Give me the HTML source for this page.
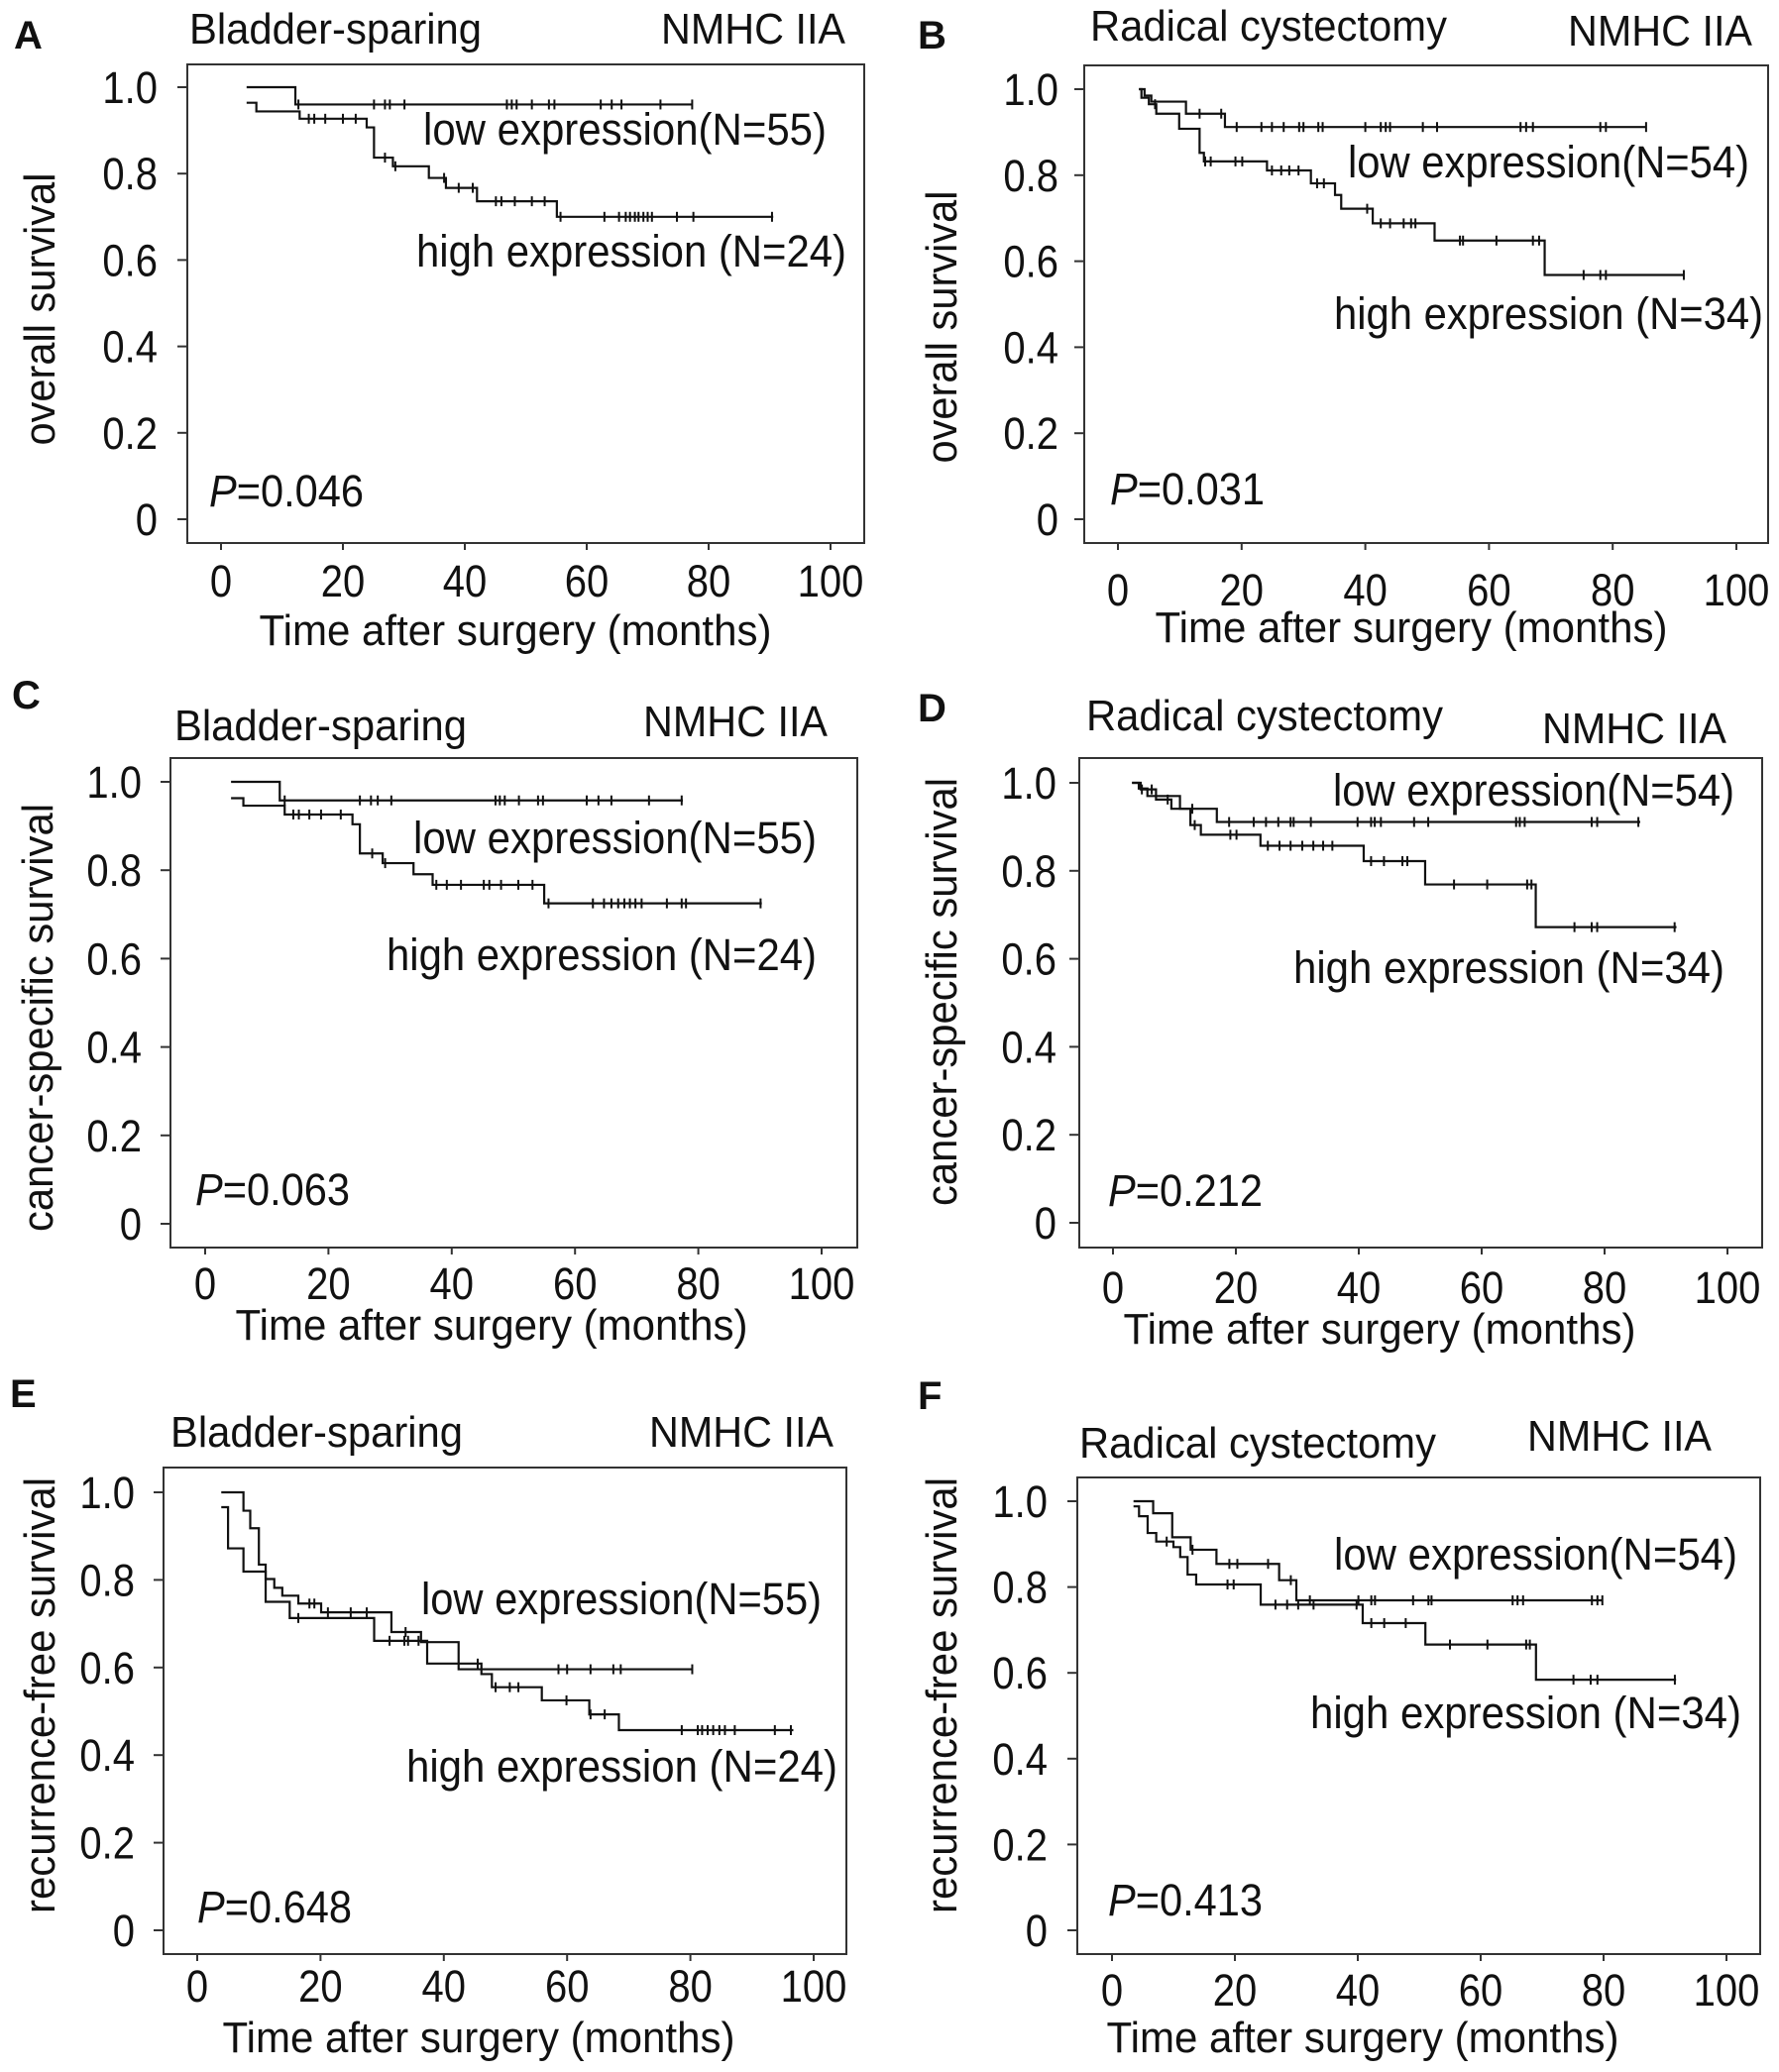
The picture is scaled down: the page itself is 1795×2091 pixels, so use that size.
<!DOCTYPE html>
<html><head><meta charset="utf-8"><style>
html,body{margin:0;padding:0;background:#fff}
svg{display:block}
text{font-family:"Liberation Sans",Arial,sans-serif;fill:#111}
</style></head>
<body>
<svg id="fig" width="1795" height="2091" viewBox="0 0 1795 2091" xmlns="http://www.w3.org/2000/svg"></svg>
<script>
// ---- shared axis data ----
const xTicks = [0, 20, 40, 60, 80, 100];
const xTickLabels = ['0', '20', '40', '60', '80', '100'];
const yTicks = [0, 0.2, 0.4, 0.6, 0.8, 1.0];
const yTickLabels = ['0', '0.2', '0.4', '0.6', '0.8', '1.0'];

// ---- Panel A: overall survival, bladder-sparing ----
const aLowT = [4.2, 12.2];
const aLowS = [1.0, 0.96];
const aLowEnd = 77.3;
const aLowCens = [12.7, 25.1, 26.9, 27.7, 30.1, 46.9, 47.7, 48.5, 51.0, 53.8, 54.7, 62.3, 64.1, 65.7, 72.1, 77.3];
const aHighT = [4.2, 5.8, 12.9, 23.9, 25.1, 28.2, 34.1, 36.9, 42.0, 55.1];
const aHighS = [0.964, 0.944, 0.927, 0.907, 0.837, 0.817, 0.79, 0.767, 0.736, 0.70];
const aHighEnd = 90.6;
const aHighCens = [14.4, 15.3, 17.1, 20.0, 22.1, 26.9, 28.6, 36.6, 39.0, 41.3, 45.1, 46.0, 48.2, 51.0, 53.1, 55.7, 62.9, 65.3, 66.4, 67.1, 67.9, 68.5, 69.3, 70.0, 70.7, 74.8, 77.5, 90.4];

// ---- Panel B: overall survival, radical cystectomy ----
const bLowT = [3.4, 4.3, 5.4, 11.0, 17.3];
const bLowS = [1.0, 0.985, 0.971, 0.943, 0.912];
const bLowEnd = 85.4;
const bLowCens = [13.2, 16.7, 19.2, 23.2, 24.9, 26.8, 29.3, 30.0, 32.4, 33.1, 40.0, 42.5, 43.3, 44.0, 49.3, 51.6, 65.1, 66.0, 67.1, 78.0, 78.9, 85.4];
const bHighT = [3.4, 3.8, 5.0, 6.2, 9.9, 13.2, 13.9, 24.1, 31.2, 35.1, 36.1, 41.2, 51.2, 69.0];
const bHighS = [1.0, 0.98, 0.965, 0.943, 0.908, 0.852, 0.832, 0.811, 0.781, 0.754, 0.722, 0.688, 0.648, 0.568];
const bHighEnd = 91.5;
const bHighCens = [6.0, 14.1, 15.0, 19.0, 20.1, 24.9, 26.4, 27.7, 29.2, 32.2, 33.3, 40.3, 42.5, 44.0, 46.2, 47.4, 48.1, 55.3, 55.8, 61.2, 67.1, 68.1, 75.3, 78.0, 78.9, 91.5];

// ---- Panel C: cancer-specific survival, bladder-sparing ----
const cLowT = [4.2, 12.1];
const cLowS = [1.0, 0.958];
const cLowEnd = 77.5;
const cLowCens = [12.9, 25.1, 26.9, 28.0, 30.2, 47.1, 47.8, 48.6, 50.9, 54.0, 54.8, 61.9, 63.8, 65.9, 72.0, 77.3];
const cHighT = [4.2, 6.2, 12.9, 23.9, 25.1, 28.8, 33.8, 36.9, 55.0];
const cHighS = [0.963, 0.946, 0.926, 0.904, 0.838, 0.816, 0.791, 0.767, 0.725];
const cHighEnd = 90.3;
const cHighCens = [14.3, 15.2, 16.9, 18.8, 22.0, 27.1, 29.2, 37.5, 39.2, 41.5, 45.2, 46.1, 48.0, 50.8, 53.1, 55.7, 62.9, 64.7, 65.9, 67.0, 68.0, 68.9, 69.8, 70.8, 74.9, 77.3, 78.0, 90.1];

// ---- Panel D: cancer-specific survival, radical cystectomy ----
const dLowT = [3.1, 4.2, 5.6, 10.9, 16.9];
const dLowS = [1.0, 0.987, 0.970, 0.941, 0.911];
const dLowEnd = 85.8;
const dLowCens = [12.9, 18.9, 22.9, 24.9, 26.9, 28.9, 29.4, 32.2, 39.8, 42.0, 42.6, 43.6, 49.0, 51.3, 65.6, 66.2, 67.0, 77.9, 78.8, 85.5];
const dHighT = [3.1, 4.5, 7.0, 9.5, 12.6, 14.3, 24.0, 40.8, 50.8, 68.8];
const dHighS = [1.0, 0.985, 0.962, 0.941, 0.904, 0.882, 0.857, 0.822, 0.769, 0.672];
const dHighEnd = 91.7;
const dHighCens = [4.7, 6.3, 8.9, 13.3, 19.1, 20.1, 25.2, 27.1, 28.9, 30.8, 32.6, 34.2, 35.7, 42.0, 44.1, 47.1, 47.9, 55.5, 60.9, 67.4, 68.1, 75.1, 77.9, 78.8, 91.4];

// ---- Panel E: recurrence-free survival, bladder-sparing ----
const eLowT = [3.9, 7.5, 8.6, 10.0, 11.1, 12.5, 13.8, 16.4, 20.1, 31.5, 36.3, 42.4];
const eLowS = [1.0, 0.958, 0.918, 0.835, 0.802, 0.782, 0.764, 0.746, 0.726, 0.681, 0.658, 0.596];
const eLowEnd = 80.3;
const eLowCens = [18.2, 19.0, 21.2, 24.9, 27.5, 33.8, 58.6, 60.0, 63.8, 67.5, 68.7, 80.3];
const eHighT = [3.9, 5.0, 7.5, 11.1, 15.0, 28.7, 37.3, 46.1, 47.8, 55.9, 63.6, 68.4];
const eHighS = [0.966, 0.872, 0.819, 0.75, 0.713, 0.661, 0.609, 0.585, 0.555, 0.525, 0.493, 0.457];
const eHighEnd = 96.7;
const eHighCens = [16.4, 31.2, 33.6, 34.2, 35.9, 45.5, 48.4, 50.7, 52.1, 59.9, 63.8, 66.1, 78.6, 81.2, 81.9, 82.8, 83.7, 84.7, 85.6, 87.2, 93.7, 96.3];

// ---- Panel F: recurrence-free survival, radical cystectomy ----
const fLowT = [3.5, 6.7, 9.8, 12.8, 17.0, 27.2, 30.0];
const fLowS = [1.0, 0.972, 0.916, 0.887, 0.854, 0.816, 0.769];
const fLowEnd = 79.8;
const fLowCens = [13.1, 19.1, 20.4, 25.4, 29.1, 32.2, 40.1, 42.2, 42.8, 49.0, 51.5, 52.0, 65.2, 66.0, 66.9, 78.1, 79.0, 79.8];
const fHighT = [3.5, 4.4, 5.8, 7.2, 10.0, 11.1, 12.3, 13.7, 24.2, 40.8, 51.0, 69.0];
const fHighS = [0.988, 0.965, 0.926, 0.906, 0.893, 0.870, 0.829, 0.806, 0.759, 0.716, 0.666, 0.584];
const fHighEnd = 91.8;
const fHighCens = [8.9, 18.8, 19.8, 26.6, 28.5, 30.3, 32.8, 39.8, 42.2, 44.3, 47.8, 55.0, 61.1, 67.4, 68.0, 75.1, 77.9, 79.0, 91.6];

// ---- layout (positions only) ----
const panels = [
 {id:'a', letter:'A', lx:14, ly:49, L:189, T:65, R:872, B:548, x0:223, x100:838, y0:524, y1:88,
  title:'Bladder-sparing', tx:191, ty:44, tw:295, nx:853, ny:44,
  ylab:'overall survival', ylx:40, yly:312, yll:275, tickR:159, xtY:600,
  xtitleX:520, xtitleY:651,
  lowX:427, lowY:146, lowW:407, lowN:'55', highX:420, highY:269, highW:434, highN:'24',
  pX:211, pY:511, pv:'0.046',
  low:[aLowT,aLowS,aLowEnd,aLowCens], high:[aHighT,aHighS,aHighEnd,aHighCens]},
 {id:'b', letter:'B', lx:926, ly:49, L:1094, T:66, R:1784, B:548, x0:1128, x100:1752, y0:524, y1:90,
  title:'Radical cystectomy', tx:1100, ty:41, tw:360, nx:1768, ny:46,
  ylab:'overall survival', ylx:950, yly:330, yll:275, tickR:1068, xtY:609,
  xtitleX:1424, xtitleY:648,
  lowX:1360, lowY:179, lowW:405, lowN:'54', highX:1346, highY:332, highW:433, highN:'34',
  pX:1120, pY:509, pv:'0.031',
  low:[bLowT,bLowS,bLowEnd,bLowCens], high:[bHighT,bHighS,bHighEnd,bHighCens]},
 {id:'c', letter:'C', lx:12, ly:715, L:172, T:765, R:865, B:1259, x0:207, x100:829, y0:1235, y1:789,
  title:'Bladder-sparing', tx:176, ty:747, tw:295, nx:835, ny:743,
  ylab:'cancer-specific survival', ylx:38, yly:1027, yll:432, tickR:143, xtY:1309,
  xtitleX:496, xtitleY:1352,
  lowX:417, lowY:861, lowW:407, lowN:'55', highX:390, highY:979, highW:434, highN:'24',
  pX:197, pY:1216, pv:'0.063',
  low:[cLowT,cLowS,cLowEnd,cLowCens], high:[cHighT,cHighS,cHighEnd,cHighCens]},
 {id:'d', letter:'D', lx:926, ly:728, L:1089, T:765, R:1778, B:1259, x0:1123, x100:1743, y0:1234, y1:790,
  title:'Radical cystectomy', tx:1096, ty:737, tw:360, nx:1742, ny:750,
  ylab:'cancer-specific survival', ylx:950, yly:1001, yll:432, tickR:1066, xtY:1313,
  xtitleX:1392, xtitleY:1356,
  lowX:1345, lowY:813, lowW:405, lowN:'54', highX:1305, highY:992, highW:435, highN:'34',
  pX:1118, pY:1217, pv:'0.212',
  low:[dLowT,dLowS,dLowEnd,dLowCens], high:[dHighT,dHighS,dHighEnd,dHighCens]},
 {id:'e', letter:'E', lx:10, ly:1420, L:165, T:1481, R:854, B:1972, x0:199, x100:821, y0:1948, y1:1506,
  title:'Bladder-sparing', tx:172, ty:1460, tw:295, nx:841, ny:1460,
  ylab:'recurrence-free survival', ylx:40, yly:1711, yll:440, tickR:136, xtY:2018,
  xtitleX:483, xtitleY:2071,
  lowX:425, lowY:1629, lowW:404, lowN:'55', highX:410, highY:1798, highW:435, highN:'24',
  pX:199, pY:1940, pv:'0.648',
  low:[eLowT,eLowS,eLowEnd,eLowCens], high:[eHighT,eHighS,eHighEnd,eHighCens]},
 {id:'f', letter:'F', lx:926, ly:1422, L:1087, T:1491, R:1776, B:1972, x0:1122, x100:1742, y0:1948, y1:1515,
  title:'Radical cystectomy', tx:1089, ty:1471, tw:360, nx:1727, ny:1464,
  ylab:'recurrence-free survival', ylx:950, yly:1711, yll:440, tickR:1057, xtY:2022,
  xtitleX:1375, xtitleY:2071,
  lowX:1346, lowY:1584, lowW:407, lowN:'54', highX:1322, highY:1744, highW:435, highN:'34',
  pX:1118, pY:1933, pv:'0.413',
  low:[fLowT,fLowS,fLowEnd,fLowCens], high:[fHighT,fHighS,fHighEnd,fHighCens]}
];

const NS = 'http://www.w3.org/2000/svg';
const svg = document.getElementById('fig');
function mk(tag, attrs, parent) {
  const e = document.createElementNS(NS, tag);
  for (const k in attrs) e.setAttribute(k, attrs[k]);
  (parent || svg).appendChild(e);
  return e;
}
function txt(parent, str, attrs) {
  const t = mk('text', attrs, parent);
  t.textContent = str;
  return t;
}
function survAt(T, S, t) {
  let s = S[0];
  for (let i = 0; i < T.length; i++) if (T[i] <= t) s = S[i];
  return s;
}
function numWidth(str, size) {
  let w = 0;
  for (const ch of str) w += (ch === '.' ? 0.278 : 0.556) * size;
  return w;
}

panels.forEach(p => {
  const g = mk('g', {});
  
  
  const X = v => p.x0 + (p.x100 - p.x0) * v / 100;
  const Y = v => p.y0 + (p.y1 - p.y0) * v;

  const lt = txt(g, p.letter, {x:p.lx, y:p.ly, 'font-size':40, 'font-weight':'bold'});
  
  
  const tt = txt(g, p.title, {x:p.tx, y:p.ty, 'font-size':44, textLength:p.tw, lengthAdjust:'spacingAndGlyphs'});
  
  
  const nt = txt(g, 'NMHC IIA', {x:p.nx, y:p.ny, 'font-size':44, 'text-anchor':'end', textLength:186, lengthAdjust:'spacingAndGlyphs'});
  
  

  const fr = mk('rect', {x:p.L, y:p.T, width:p.R - p.L, height:p.B - p.T, fill:'none', stroke:'#333', 'stroke-width':2}, g);
  
  

  yTicks.forEach((v, i) => {
    const tk = mk('line', {x1:p.L - 10, x2:p.L, y1:Y(v), y2:Y(v), stroke:'#333', 'stroke-width':2}, g);
    
    
    const tl = txt(g, yTickLabels[i], {x:p.tickR, y:Y(v) + 16, 'font-size':45, 'text-anchor':'end', textLength:numWidth(yTickLabels[i], 40), lengthAdjust:'spacingAndGlyphs'});
    
    
  });
  xTicks.forEach((v, i) => {
    const tk = mk('line', {x1:X(v), x2:X(v), y1:p.B, y2:p.B + 7, stroke:'#333', 'stroke-width':2}, g);
    
    
    const tl = txt(g, xTickLabels[i], {x:X(v), y:p.xtY + 2, 'font-size':45, 'text-anchor':'middle', textLength:numWidth(xTickLabels[i], 40), lengthAdjust:'spacingAndGlyphs'});
    
    
  });
  const xt = txt(g, 'Time after surgery (months)', {x:p.xtitleX, y:p.xtitleY, 'font-size':44, 'text-anchor':'middle', textLength:517, lengthAdjust:'spacingAndGlyphs'});
  
  
  const yt = txt(g, p.ylab, {x:0, y:0, 'font-size':44, 'text-anchor':'middle', textLength:p.yll, lengthAdjust:'spacingAndGlyphs',
    transform:'translate(' + (p.ylx + 15) + ',' + p.yly + ') rotate(-90)'});
  
  

  [['low', p.low], ['high', p.high]].forEach(([nm, d]) => {
    const [T, S, end, C] = d;
    let path = 'M' + X(T[0]) + ' ' + Y(S[0]);
    for (let i = 1; i < T.length; i++) path += ' H' + X(T[i]) + ' V' + Y(S[i]);
    path += ' H' + X(end);
    const ln = mk('path', {d:path, fill:'none', stroke:'#111', 'stroke-width':2.2}, g);
    
    
    C.forEach(c => {
      const yy = Y(survAt(T, S, c));
      const cm = mk('line', {x1:X(c), x2:X(c), y1:yy - 5, y2:yy + 5, stroke:'#111', 'stroke-width':2}, g);
      
      
    });
  });

  const lowLab = txt(g, 'low expression(N=' + p.lowN + ')', {x:p.lowX, y:p.lowY, 'font-size':45, textLength:p.lowW, lengthAdjust:'spacingAndGlyphs'});
  
  
  const highLab = txt(g, 'high expression (N=' + p.highN + ')', {x:p.highX, y:p.highY, 'font-size':45, textLength:p.highW, lengthAdjust:'spacingAndGlyphs'});
  
  

  const pt = mk('text', {x:p.pX, y:p.pY, 'font-size':45, textLength:156, lengthAdjust:'spacingAndGlyphs'}, g);
  
  
  const ps = mk('tspan', {'font-style':'italic'}, pt);
  ps.textContent = 'P';
  const pv = mk('tspan', {}, pt);
  pv.textContent = '=' + p.pv;
});
</script>
</body></html>
